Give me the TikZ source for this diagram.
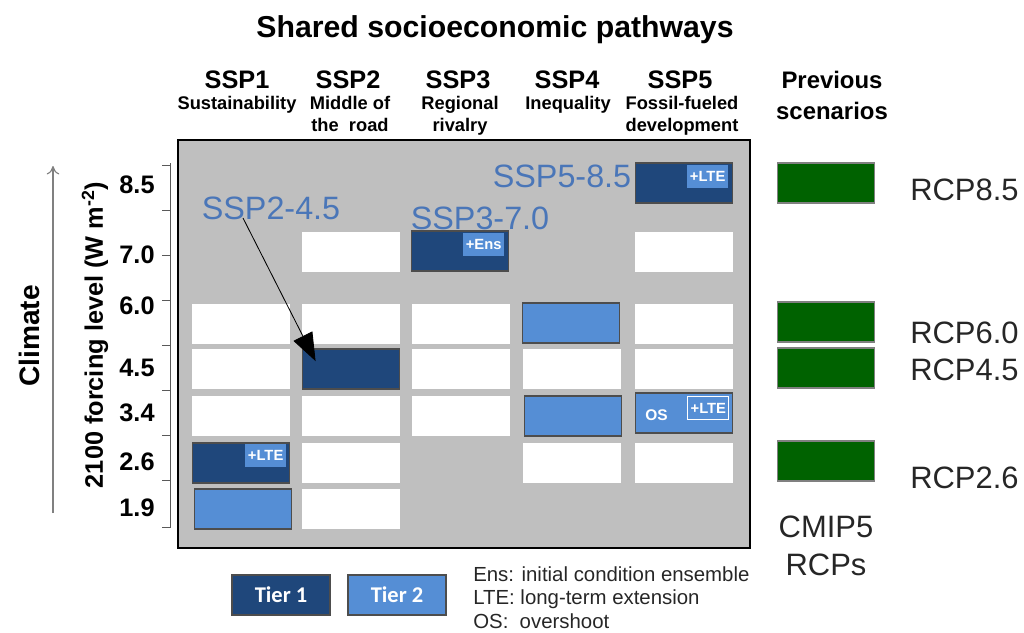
\documentclass[tikz,border=0pt]{standalone}
\usepackage{fontspec}
\setmainfont{Liberation Sans}
\newfontfamily\tierfont{Carlito}
\usetikzlibrary{arrows.meta}
\definecolor{panelgray}{HTML}{BFBFBF}
\definecolor{darkblue}{HTML}{1F477B}
\definecolor{lightblue}{HTML}{558ED5}
\definecolor{boxedge}{HTML}{4D4D4D}
\definecolor{rcpgreen}{HTML}{006200}
\definecolor{sspblue}{HTML}{4A76B8}
\begin{document}
\begin{tikzpicture}[
        x=0.025cm, y=-0.025cm, % 1 единица = 1 пиксель
        cell/.style={minimum width=2.425cm, minimum height=1cm, inner sep=0pt, fill=white}, % пустая ячейка
        tierone/.style={cell, fill=darkblue, draw=boxedge, line width=1.3pt},
        tiertwo/.style={cell, fill=lightblue, draw=boxedge, line width=1.3pt},
        rcpbox/.style={cell, fill=rcpgreen, draw=gray, line width=1.3pt},
        tag/.style={anchor=north east, fill=lightblue, text=white, inner sep=0pt,
            minimum width=1.025cm, minimum height=0.575cm, font=\bfseries\fontsize{10.5}{12}\selectfont},
        head/.style={font=\bfseries\fontsize{18}{20}\selectfont},
        sub/.style={anchor=north, align=center, inner sep=0pt, font=\bfseries\fontsize{13}{15.5}\selectfont},
        lvl/.style={font=\bfseries\fontsize{18}{20}\selectfont},
        ssp/.style={text=sspblue, inner sep=0pt, font=\fontsize{23}{25}\selectfont},
        rcplab/.style={anchor=west, inner sep=0pt, text=black!85, font=\fontsize{22}{24}\selectfont},
    ]
    \useasboundingbox (0,0) rectangle (1024,632);

    % заголовки
    \node[font=\bfseries\fontsize{21.5}{24}\selectfont] (title) at (495,30) {Shared socioeconomic pathways};
    \foreach \n/\x in {1/237,2/348,3/458,4/567,5/680}
        \node[head] (h\n) at (\x,80) {SSP\n};
    \node[sub] (s1) at (237,96) {Sustainability};
    \node[sub] (s2) at (350,96) {Middle of\\the\ \ road};
    \node[sub] (s3) at (460,96) {Regional\\rivalry};
    \node[sub] (s4) at (568,96) {Inequality};
    \node[sub] (s5) at (682,96) {Fossil-fueled\\development};
    \node[font=\bfseries\fontsize{17}{22}\selectfont, align=center] (prev) at (832,95) {Previous\\scenarios};

    % ось слева
    \coordinate (cbot) at (53,513);
    \coordinate (ctop) at (53,166);
    \draw[gray, line width=0.8pt, -{To[length=6pt, width=9pt]}] (cbot) -- (ctop);
    \node[rotate=90, font=\bfseries\fontsize{20}{22}\selectfont] (climate) at (29,336) {Climate};
    \node[rotate=90, font=\bfseries\fontsize{18}{20}\selectfont] (forcing) at (95,335) {2100 forcing level (W m\textsuperscript{-2})};
    \draw[gray!70!black, line width=0.6pt] (170,163) -- (170,528);
    \foreach \y in {165,210,255,300,345,390,435,480,527}
        \draw[gray!70!black, line width=0.6pt] (162,\y) -- (170,\y);
    \foreach \v/\y [count=\i] in {8.5/185,7.0/255,6.0/306,4.5/368,3.4/413,2.6/462,1.9/508}
        \node[lvl] (lv\i) at (137,\y) {\v};

    % серая панель
    \draw[fill=panelgray, line width=1.3pt] (178,140) rectangle (750,548);

    % SSP1
    \foreach \y [count=\i] in {324,369,416}
        \node[cell] (c1w\i) at (241,\y) {};
    \node[tierone] (c1lte) at (241,463) {};
    \node[tag] (t1) at ([shift={(-4,2)}]c1lte.north east) {+LTE};
    \node[tiertwo] (c1two) at (243,509) {};
    % SSP2
    \foreach \y [count=\i] in {252,324,416,463,509}
        \node[cell] (c2w\i) at (351,\y) {};
    \node[tierone] (c245) at (351,369) {};
    % SSP3
    \foreach \y [count=\i] in {324,369,416}
        \node[cell] (c3w\i) at (461,\y) {};
    \node[tierone] (c370) at (460,251) {};
    \node[tag] (t3) at ([shift={(-5,3)}]c370.north east) {+Ens};
    % SSP4
    \foreach \y [count=\i] in {369,463}
        \node[cell] (c4w\i) at (572,\y) {};
    \node[tiertwo] (c4a) at (571,323) {};
    \node[tiertwo] (c4b) at (573,416) {};
    % SSP5
    \foreach \y [count=\i] in {252,324,369,463}
        \node[cell] (c5w\i) at (684,\y) {};
    \node[tierone] (c585) at (684,183) {};
    \node[tag] (t5) at ([shift={(-5,3)}]c585.north east) {+LTE};
    \node[tiertwo] (c5os) at (684,413) {};
    \node[text=white, font=\bfseries\fontsize{11}{12}\selectfont] (os) at ([shift={(22,2)}]c5os.west) {OS};
    \node[tag, fill=none, draw=white, line width=0.8pt] (t5b) at ([shift={(-4,4)}]c5os.north east) {+LTE};

    % подписи сценариев
    \node[ssp] (l245) at (271,208) {SSP2-4.5};
    \node[ssp] (l370) at (480,218) {SSP3-7.0};
    \node[ssp] (l585) at (562,176) {SSP5-8.5};
    \coordinate (a245) at (243,218);
    \draw[line width=0.6pt, -{Triangle[width=0.525cm, length=0.7cm]}] (a245) -- ([shift={(14,13)}]c245.north west);

    % прежние сценарии RCP
    \foreach \y [count=\i] in {183,322,368,461}
        \node[rcpbox] (r\i) at (826,\y) {};
    \node[rcplab] (rl1) at (910,190) {RCP8.5};
    \node[rcplab] (rl2) at (910,333) {RCP6.0};
    \node[rcplab] (rl3) at (910,370) {RCP4.5};
    \node[rcplab] (rl4) at (910,478) {RCP2.6};
    \node[align=center, text=black!85, font=\fontsize{22}{27}\selectfont] (cmip) at (826,546) {CMIP5\\RCPs};

    % легенда
    \node[tierone, minimum width=2.45cm, text=white, font=\tierfont\bfseries\fontsize{16}{18}\selectfont] (tier1) at (281,595) {Tier 1};
    \node[tiertwo, minimum width=2.45cm, text=white, font=\tierfont\bfseries\fontsize{16}{18}\selectfont] (tier2) at (397,595) {Tier 2};
    \node[anchor=north west, align=left, inner sep=0pt, text=black!85, font=\fontsize{14.5}{17}\selectfont] (notes) at (473,566)
        {Ens: initial condition ensemble\\LTE: long-term extension\\OS:\ \ overshoot};
\end{tikzpicture}
\end{document}
